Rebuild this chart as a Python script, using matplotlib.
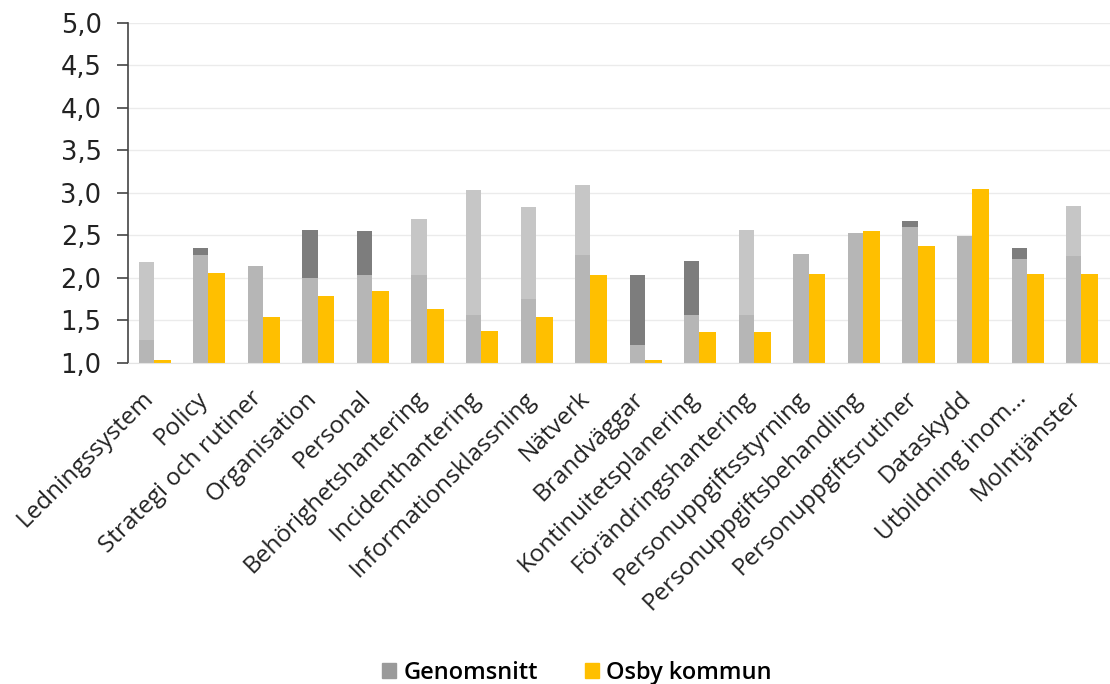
import numpy as np
import matplotlib
matplotlib.use('Agg')
import matplotlib.pyplot as plt
import matplotlib.transforms as mtransforms
from matplotlib.patches import Patch

plt.rcParams['font.family'] = ['Open Sans', 'DejaVu Sans']

# data
kategorier = ['Ledningssystem', 'Policy', 'Strategi och rutiner', 'Organisation',
              'Personal', 'Behörighetshantering', 'Incidenthantering',
              'Informationsklassning', 'Nätverk', 'Brandväggar',
              'Kontinuitetsplanering', 'Förändringshantering',
              'Personuppgiftsstyrning', 'Personuppgiftsbehandling',
              'Personuppgiftsrutiner', 'Dataskydd', 'Utbildning inom...',
              'Molntjänster']
genomsnitt = [1.27, 2.27, 2.14, 2.00, 2.03, 2.03, 1.56, 1.75, 2.27,
              1.21, 1.56, 1.56, 2.28, 2.53, 2.60, 2.49, 2.22, 2.26]
# the extra gray segment printed above the average (scan artefact)
ovre_topp = [2.19, 2.35, 2.14, 2.56, 2.55, 2.69, 3.04, 2.84, 3.09,
             2.03, 2.20, 2.56, 2.28, 2.53, 2.67, 2.49, 2.35, 2.85]
ovre_ton = ['light', 'dark', None, 'dark', 'dark', 'light', 'light', 'light', 'light',
            'dark', 'dark', 'light', None, None, 'dark', None, 'dark', 'light']
osby = [1.04, 2.06, 1.54, 1.79, 1.85, 1.64, 1.38, 1.54, 2.04,
        1.04, 1.37, 1.37, 2.05, 2.55, 2.38, 3.05, 2.05, 2.05]

fig = plt.figure(figsize=(11.1, 6.84), dpi=100)
ax = fig.add_axes([0.1153, 0.4693, 0.8847, 0.4971])

x = np.arange(len(kategorier))
gray = '#b6b6b6'
yellow = '#ffbf00'
shade_col = {'light': '#c6c6c6', 'dark': '#7d7d7d'}

ax.bar(x - 0.165, np.array(genomsnitt) - 1, bottom=1, width=0.28, color=gray, zorder=2)
for i in range(len(kategorier)):
    if ovre_ton[i] is not None:
        ax.bar(x[i] - 0.165, ovre_topp[i] - genomsnitt[i], bottom=genomsnitt[i],
               width=0.28, color=shade_col[ovre_ton[i]], zorder=2)
ax.bar(x + 0.13, np.array(osby) - 1, bottom=1, width=0.31, color=yellow, zorder=2)

ax.set_ylim(1.0, 5.0)
ax.set_xlim(-0.5, len(kategorier) - 0.5)
ax.set_yticks(np.arange(1.0, 5.01, 0.5))
ax.set_yticklabels([f'{v:.1f}'.replace('.', ',') for v in np.arange(1.0, 5.01, 0.5)],
                   fontsize=18.5, color='#222222', family='DejaVu Sans')
ax.set_xticks(x)
ax.set_xticklabels(kategorier, rotation=45, ha='right', rotation_mode='anchor',
                   fontsize=17.5, color='#222222')
ax.tick_params(axis='x', length=0, pad=17)
ax.tick_params(axis='y', length=8, width=1.2, color='#444444', pad=11)

# nudge the slanted labels a bit to the left, as in the original
offset = mtransforms.ScaledTranslation(-14 / 100, 0, fig.dpi_scale_trans)
for lbl in ax.get_xticklabels():
    lbl.set_transform(lbl.get_transform() + offset)

ax.yaxis.grid(True, color='#ebebeb', linewidth=1)
ax.set_axisbelow(True)
for s in ['top', 'right']:
    ax.spines[s].set_visible(False)
ax.spines['left'].set_color('#444444')
ax.spines['left'].set_linewidth(1.2)
ax.spines['bottom'].set_color('#e4e4e4')

handles = [Patch(color='#9a9a9a', label='Genomsnitt'), Patch(color=yellow, label='Osby kommun')]
fig.legend(handles=handles, loc='center', bbox_to_anchor=(0.52, 0.016), ncol=2,
           frameon=False, prop={'size': 17, 'weight': 'semibold'}, handlelength=0.6,
           handleheight=0.6, handletextpad=0.3, columnspacing=2.0)

fig.savefig('out.png', dpi=100)
